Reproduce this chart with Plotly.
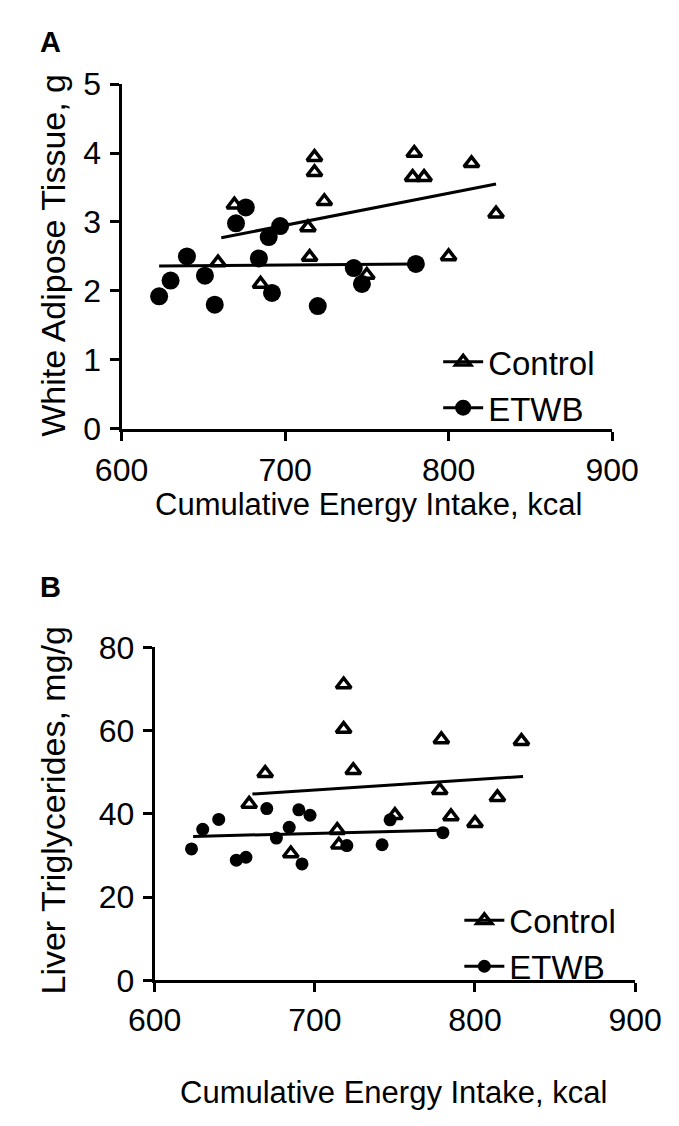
import plotly.graph_objects as go

# ---------------- data ----------------
# Cumulative energy intake (kcal), same animals in both panels
control_kcal = [659, 669, 685, 714, 715, 718, 718, 724, 750, 778, 779, 785, 800, 814, 829]
etwb_kcal = [623, 630, 640, 651, 657, 670, 676, 684, 690, 697, 692, 720, 742, 747, 780]

# Panel A: white adipose tissue (g)
control_wat = [2.41, 3.25, 2.10, 2.92, 2.49, 3.94, 3.72, 3.30, 2.23, 3.65, 4.00, 3.65, 2.50, 3.85, 3.12]
etwb_wat = [1.92, 2.15, 2.50, 2.22, 1.80, 2.98, 3.21, 2.47, 2.78, 2.94, 1.97, 1.78, 2.33, 2.10, 2.39]

# Panel B: liver triglycerides (mg/g)
control_tg = [42.4, 49.8, 30.5, 36.1, 32.6, 71.1, 60.4, 50.5, 39.7, 45.7, 57.9, 39.4, 37.8, 44.0, 57.5]
etwb_tg = [31.6, 36.3, 38.7, 28.9, 29.6, 41.3, 34.2, 36.8, 41.0, 39.7, 28.0, 32.4, 32.6, 38.6, 35.5]

# Regression line endpoints
control_fit_kcal = [661, 829]
control_fit_wat = [2.77, 3.55]
etwb_fit_kcal = [623, 780]
etwb_fit_wat = [2.36, 2.39]
control_fit_kcal_b = [661, 830]
control_fit_tg = [44.8, 49.0]
etwb_fit_kcal_b = [624, 779]
etwb_fit_tg = [34.6, 36.1]

x_ticks = [600, 700, 800, 900]
wat_ticks = [0, 1, 2, 3, 4, 5]
tg_ticks = [0, 20, 40, 60, 80]

group_names = ["Control", "ETWB"]
x_title = "Cumulative Energy Intake, kcal"
ya_title = "White Adipose Tissue, g"
yb_title = "Liver Triglycerides, mg/g"

# ---------------- layout helpers ----------------
W, H = 679, 1126
FONT = "Liberation Sans, Arial, Helvetica, sans-serif"


def px_x(p):
    return p / W


def px_y(p):
    return 1 - p / H


tri = dict(symbol="triangle-up-open", color="black", size=13, line=dict(width=3.5, color="black"))
dot_a = dict(symbol="circle", color="black", size=18)
dot_b = dict(symbol="circle", color="black", size=13)

fig = go.Figure()

# ----- Panel A -----
fig.add_trace(go.Scatter(x=control_fit_kcal, y=control_fit_wat, mode="lines",
                         line=dict(color="black", width=3), showlegend=False,
                         xaxis="x", yaxis="y"))
fig.add_trace(go.Scatter(x=etwb_fit_kcal, y=etwb_fit_wat, mode="lines",
                         line=dict(color="black", width=3), showlegend=False,
                         xaxis="x", yaxis="y"))
fig.add_trace(go.Scatter(x=control_kcal, y=control_wat, mode="markers", marker=tri,
                         showlegend=False, cliponaxis=False, xaxis="x", yaxis="y"))
fig.add_trace(go.Scatter(x=etwb_kcal, y=etwb_wat, mode="markers", marker=dot_a,
                         showlegend=False, cliponaxis=False, xaxis="x", yaxis="y"))
fig.add_trace(go.Scatter(x=[None], y=[None], mode="lines+markers", name=group_names[0],
                         marker=tri, line=dict(color="black", width=3),
                         legend="legend", xaxis="x", yaxis="y"))
fig.add_trace(go.Scatter(x=[None], y=[None], mode="lines+markers", name=group_names[1],
                         marker=dict(symbol="circle", color="black", size=16),
                         line=dict(color="black", width=3),
                         legend="legend", xaxis="x", yaxis="y"))

# ----- Panel B -----
fig.add_trace(go.Scatter(x=control_fit_kcal_b, y=control_fit_tg, mode="lines",
                         line=dict(color="black", width=3), showlegend=False,
                         xaxis="x2", yaxis="y2"))
fig.add_trace(go.Scatter(x=etwb_fit_kcal_b, y=etwb_fit_tg, mode="lines",
                         line=dict(color="black", width=3), showlegend=False,
                         xaxis="x2", yaxis="y2"))
fig.add_trace(go.Scatter(x=control_kcal, y=control_tg, mode="markers", marker=tri,
                         showlegend=False, cliponaxis=False, xaxis="x2", yaxis="y2"))
fig.add_trace(go.Scatter(x=etwb_kcal, y=etwb_tg, mode="markers", marker=dot_b,
                         showlegend=False, cliponaxis=False, xaxis="x2", yaxis="y2"))
fig.add_trace(go.Scatter(x=[None], y=[None], mode="lines+markers", name=group_names[0],
                         marker=tri, line=dict(color="black", width=3),
                         legend="legend2", xaxis="x2", yaxis="y2"))
fig.add_trace(go.Scatter(x=[None], y=[None], mode="lines+markers", name=group_names[1],
                         marker=dict(symbol="circle", color="black", size=13),
                         line=dict(color="black", width=3),
                         legend="legend2", xaxis="x2", yaxis="y2"))

axis_common = dict(showline=True, linecolor="black", linewidth=3, ticks="outside",
                   ticklen=9, tickwidth=3, tickcolor="black", showgrid=False,
                   zeroline=False, tickfont=dict(family=FONT, size=32, color="black"))

fig.update_layout(
    width=W, height=H,
    margin=dict(l=0, r=0, t=0, b=0),
    paper_bgcolor="white", plot_bgcolor="white",
    font=dict(family=FONT, color="black"),
    xaxis=dict(domain=[px_x(94), px_x(627)], range=[600, 900], tickvals=x_ticks,
               anchor="y", ticklabelstandoff=2, **axis_common),
    yaxis=dict(domain=[px_y(416), px_y(60)], range=[0, 5], tickvals=wat_ticks,
               anchor="x", ticklabelstandoff=2, **axis_common),
    xaxis2=dict(domain=[px_x(130), px_x(652)], range=[600, 900], tickvals=x_ticks,
                anchor="y2", ticklabelstandoff=0, **axis_common),
    yaxis2=dict(domain=[px_y(986), px_y(642)], range=[0, 80], tickvals=tg_ticks,
                anchor="x2", ticklabelstandoff=2, **axis_common),
    legend=dict(x=px_x(438), y=px_y(318), xanchor="left", yanchor="top",
                font=dict(family=FONT, size=33, color="black"),
                bgcolor="rgba(0,0,0,0)", itemwidth=40, tracegroupgap=0),
    legend2=dict(x=px_x(461), y=px_y(895), xanchor="left", yanchor="top",
                 font=dict(family=FONT, size=33, color="black"),
                 bgcolor="rgba(0,0,0,0)", itemwidth=40, tracegroupgap=0),
    showlegend=True,
)

annotations = [
    dict(text="<b>A</b>", x=px_x(3), y=px_y(17), xanchor="left", yanchor="middle",
         font=dict(size=29)),
    dict(text="<b>B</b>", x=px_x(3), y=px_y(580), xanchor="left", yanchor="middle",
         font=dict(size=29)),
    dict(text=ya_title, x=px_x(20), y=px_y(237), textangle=-90, xanchor="center",
         yanchor="middle", font=dict(size=34)),
    dict(text=yb_title, x=px_x(20), y=px_y(810), textangle=-90, xanchor="center",
         yanchor="middle", font=dict(size=34)),
    dict(text=x_title, x=px_x(362), y=px_y(494), xanchor="center", yanchor="middle",
         font=dict(size=31)),
    dict(text=x_title, x=px_x(390), y=px_y(1102), xanchor="center", yanchor="middle",
         font=dict(size=31)),
]
for a in annotations:
    a.update(xref="paper", yref="paper", showarrow=False)
    a["font"].update(family=FONT, color="black")
fig.update_layout(annotations=annotations)

fig.write_html("out.html")
